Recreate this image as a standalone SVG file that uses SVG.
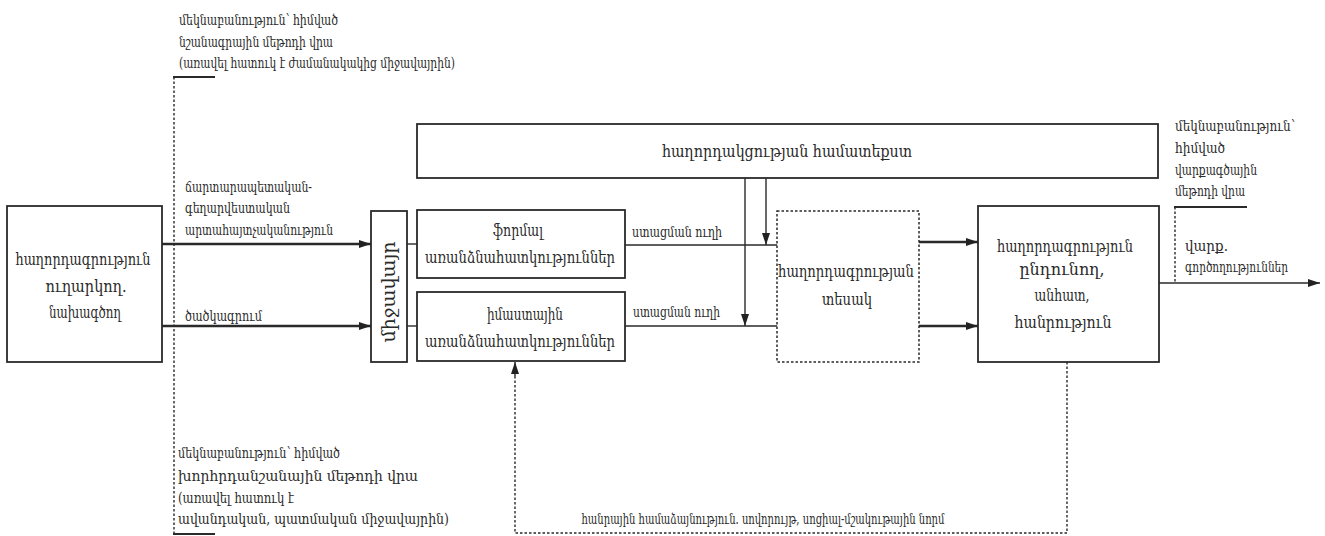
<svg xmlns="http://www.w3.org/2000/svg" width="1325" height="536" viewBox="0 0 1325 536">
<defs>
<marker id="ah" viewBox="0 0 12 8" refX="12" refY="4" markerWidth="12" markerHeight="8" markerUnits="userSpaceOnUse" orient="auto">
<path d="M0,0 L12,4 L0,8 Z" fill="#222"/>
</marker>
<style>
text{font-family:"DejaVu Serif Condensed","DejaVu Serif",serif;font-stretch:condensed;fill:#2a2a2a}
.box{fill:#fff;stroke:#2a2a2a;stroke-width:1.8}
.dbox{fill:#fff;stroke:#2a2a2a;stroke-width:1.5;stroke-dasharray:2.5 2}
.ln{fill:none;stroke:#2a2a2a;stroke-width:1.4}
.thk{fill:none;stroke:#2a2a2a;stroke-width:2.4}
.dl{fill:none;stroke:#2a2a2a;stroke-width:1.4;stroke-dasharray:2.5 2}
.ul{fill:none;stroke:#2a2a2a;stroke-width:2}
.a{font-size:15px}
.b{font-size:17px;text-anchor:middle}
.s{font-size:15px}
.f{font-size:14px;text-anchor:middle}
</style>
</defs>
<g id="connectors">
<line class="thk" x1="162" y1="244" x2="371" y2="244" marker-end="url(#ah)"/>
<line class="thk" x1="162" y1="326" x2="371" y2="326" marker-end="url(#ah)"/>
<line class="ln" x1="407" y1="244" x2="417" y2="244"/>
<line class="ln" x1="407" y1="326" x2="417" y2="326"/>
<line class="ln" x1="625" y1="245" x2="777" y2="245"/>
<line class="ln" x1="625" y1="326" x2="777" y2="326"/>
<line class="ln" x1="745" y1="178" x2="745" y2="326" marker-end="url(#ah)"/>
<line class="ln" x1="766" y1="178" x2="766" y2="245" marker-end="url(#ah)"/>
<line class="thk" x1="919" y1="242" x2="978" y2="242" marker-end="url(#ah)"/>
<line class="thk" x1="919" y1="326" x2="978" y2="326" marker-end="url(#ah)"/>
<line class="ln" x1="1159" y1="283" x2="1320" y2="283" marker-end="url(#ah)"/>
<line class="dl" x1="174" y1="77" x2="174" y2="534"/>
<line class="ul" x1="173" y1="77" x2="215" y2="77"/>
<line class="ul" x1="173" y1="534" x2="215" y2="534"/>
<line class="dl" x1="1175" y1="207" x2="1175" y2="283"/>
<line class="ul" x1="1174" y1="207" x2="1247" y2="207"/>
<polyline class="dl" points="1067,362 1067,533 515,533 515,375"/>
<line class="ln" x1="515" y1="376" x2="515" y2="362" marker-end="url(#ah)"/>
</g>
<g id="sender">
<rect class="box" x="7" y="206" width="155" height="156"/>
<text class="b" x="83" y="265" textLength="135" lengthAdjust="spacingAndGlyphs">հաղորդագրություն</text>
<text class="b" x="86" y="292" textLength="81" lengthAdjust="spacingAndGlyphs">ուղարկող.</text>
<text class="b" x="85" y="318" textLength="72" lengthAdjust="spacingAndGlyphs">նախագծող</text>
</g>
<g id="environment">
<rect class="box" x="371" y="211" width="36" height="151"/>
<text class="b" style="font-size:18px" transform="translate(395,292) rotate(-90)" textLength="101" lengthAdjust="spacingAndGlyphs">միջավայր</text>
</g>
<g id="formal">
<rect class="box" x="417" y="210" width="208" height="68"/>
<text class="b" x="518" y="236" textLength="50" lengthAdjust="spacingAndGlyphs">ֆորմալ</text>
<text class="b" x="520" y="263" textLength="190" lengthAdjust="spacingAndGlyphs">առանձնահատկություններ</text>
</g>
<g id="semantic">
<rect class="box" x="417" y="292" width="208" height="69"/>
<text class="b" x="525" y="320" textLength="76" lengthAdjust="spacingAndGlyphs">իմաստային</text>
<text class="b" x="520" y="347" textLength="190" lengthAdjust="spacingAndGlyphs">առանձնահատկություններ</text>
</g>
<g id="context">
<rect class="box" x="417" y="124" width="741" height="54"/>
<text class="b" x="787" y="157" textLength="250" lengthAdjust="spacingAndGlyphs">հաղորդակցության համատեքստ</text>
</g>
<g id="message-type">
<rect class="dbox" x="777" y="211" width="142" height="151"/>
<text class="b" x="846" y="277" textLength="136" lengthAdjust="spacingAndGlyphs">հաղորդագրության</text>
<text class="b" x="847" y="305" textLength="50" lengthAdjust="spacingAndGlyphs">տեսակ</text>
</g>
<g id="receiver">
<rect class="box" x="978" y="206" width="181" height="156"/>
<text class="b" x="1065" y="252" textLength="136" lengthAdjust="spacingAndGlyphs">հաղորդագրություն</text>
<text class="b" x="1062" y="275" textLength="85" lengthAdjust="spacingAndGlyphs">ընդունող,</text>
<text class="b" x="1062" y="301" textLength="55" lengthAdjust="spacingAndGlyphs">անհատ,</text>
<text class="b" x="1063" y="328" textLength="97" lengthAdjust="spacingAndGlyphs">հանրություն</text>
</g>
<g id="labels">
<text class="a" x="179" y="25" textLength="159" lengthAdjust="spacingAndGlyphs">մեկնաբանություն՝ հիմված</text>
<text class="a" x="179" y="47" textLength="154" lengthAdjust="spacingAndGlyphs">նշանագրային մեթոդի վրա</text>
<text class="a" x="179" y="68" textLength="276" lengthAdjust="spacingAndGlyphs">(առավել հատուկ է ժամանակակից միջավայրին)</text>
<text class="a" x="185" y="192" textLength="127" lengthAdjust="spacingAndGlyphs">ճարտարապետական-</text>
<text class="a" x="185" y="213" textLength="105" lengthAdjust="spacingAndGlyphs">գեղարվեստական</text>
<text class="a" x="185" y="235" textLength="148" lengthAdjust="spacingAndGlyphs">արտահայտչականություն</text>
<text class="a" x="185" y="321" textLength="77" lengthAdjust="spacingAndGlyphs">ծածկագրում</text>
<text class="s" x="632" y="237" textLength="90" lengthAdjust="spacingAndGlyphs">ստացման ուղի</text>
<text class="s" x="633" y="317" textLength="87" lengthAdjust="spacingAndGlyphs">ստացման ուղի</text>
<text class="a" x="178" y="458" textLength="162" lengthAdjust="spacingAndGlyphs">մեկնաբանություն՝ հիմված</text>
<text class="a" x="178" y="481" textLength="240" lengthAdjust="spacingAndGlyphs">խորհրդանշանային մեթոդի վրա</text>
<text class="a" x="178" y="503" textLength="116" lengthAdjust="spacingAndGlyphs">(առավել հատուկ է</text>
<text class="a" x="178" y="524" textLength="271" lengthAdjust="spacingAndGlyphs">ավանդական, պատմական միջավայրին)</text>
<text class="a" x="1175" y="131" textLength="120" lengthAdjust="spacingAndGlyphs">մեկնաբանություն՝</text>
<text class="a" x="1175" y="153" textLength="50" lengthAdjust="spacingAndGlyphs">հիմված</text>
<text class="a" x="1175" y="175" textLength="82" lengthAdjust="spacingAndGlyphs">վարքագծային</text>
<text class="a" x="1175" y="196" textLength="70" lengthAdjust="spacingAndGlyphs">մեթոդի վրա</text>
<text class="a" x="1185" y="251" textLength="43" lengthAdjust="spacingAndGlyphs">վարք.</text>
<text class="a" x="1185" y="272" textLength="103" lengthAdjust="spacingAndGlyphs">գործողություններ</text>
<text class="f" x="763" y="524" textLength="363" lengthAdjust="spacingAndGlyphs">հանրային համաձայնություն. սովորույթ, սոցիալ-մշակութային նորմ</text>
</g>
</svg>
